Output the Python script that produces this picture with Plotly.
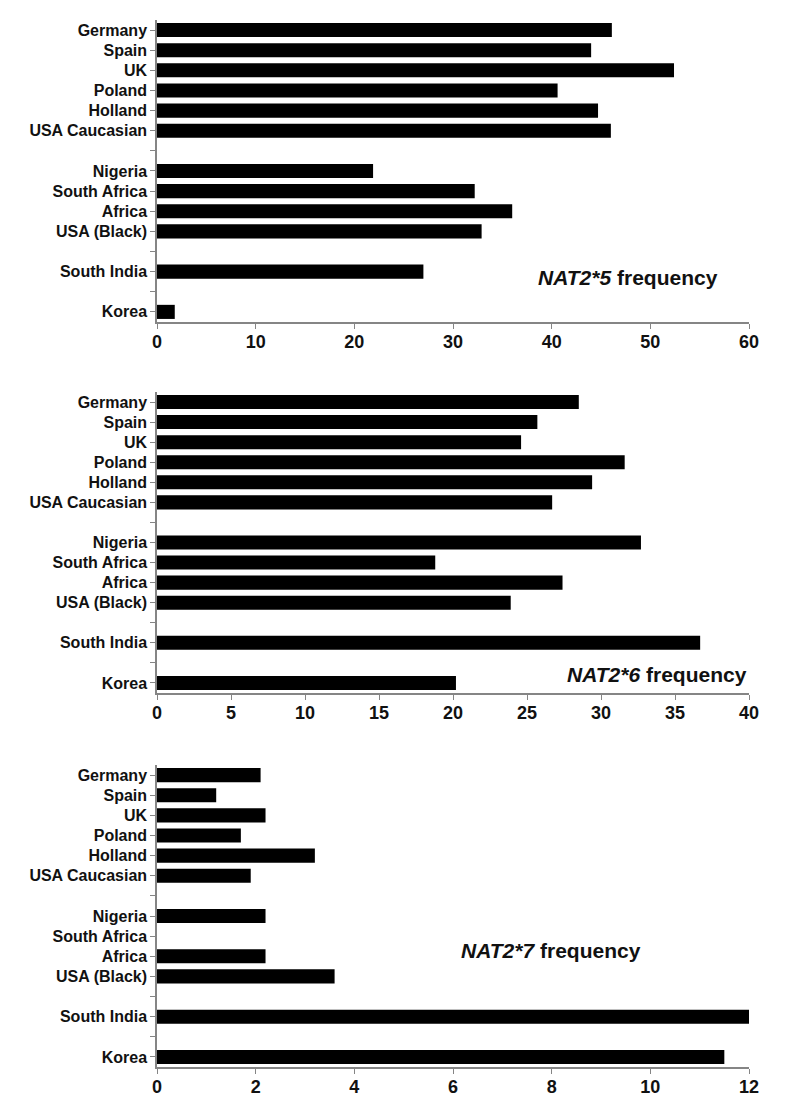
import plotly.graph_objects as go
from plotly.subplots import make_subplots

# rows top -> bottom; "gap_*" rows are empty spacer rows (tick mark, no label)
rows = ["Germany", "Spain", "UK", "Poland", "Holland", "USA Caucasian", "gap_a",
        "Nigeria", "South Africa", "Africa", "USA (Black)", "gap_b",
        "South India", "gap_c", "Korea"]
row_labels = ["" if r.startswith("gap_") else r for r in rows]

nat2_5 = [46.1, 44.0, 52.4, 40.6, 44.7, 46.0, None,
          21.9, 32.2, 36.0, 32.9, None, 27.0, None, 1.8]
nat2_6 = [28.5, 25.7, 24.6, 31.6, 29.4, 26.7, None,
          32.7, 18.8, 27.4, 23.9, None, 36.7, None, 20.2]
nat2_7 = [2.1, 1.2, 2.2, 1.7, 3.2, 1.9, None,
          2.2, 0.0, 2.2, 3.6, None, 12.0, None, 11.5]

panels = [
    dict(values=nat2_5, xmax=60, dtick=10, label="<b><i>NAT2*5</i> frequency</b>",
         ax=0.641, ay=0.146, xanchor="left"),
    dict(values=nat2_6, xmax=40, dtick=5, label="<b><i>NAT2*6</i> frequency</b>",
         ax=1.0, ay=0.062, xanchor="right"),
    dict(values=nat2_7, xmax=12, dtick=2, label="<b><i>NAT2*7</i> frequency</b>",
         ax=0.510, ay=0.387, xanchor="left"),
]
domains = [[0.7116, 1.0], [0.3572, 0.6447], [0.0, 0.2884]]

FONT = "Arial, 'Liberation Sans', sans-serif"
AXIS_GREY = "#858585"

fig = make_subplots(rows=3, cols=1)

for i, p in enumerate(panels, start=1):
    fig.add_trace(go.Bar(
        x=p["values"], y=rows, orientation="h",
        marker=dict(color="black", line=dict(width=0)),
        width=0.7, showlegend=False,
    ), row=i, col=1)
    fig.update_xaxes(
        range=[0, p["xmax"]], dtick=p["dtick"], tick0=0,
        showgrid=False, zeroline=False,
        showline=True, linecolor=AXIS_GREY, linewidth=1.5,
        ticks="outside", ticklen=5, tickcolor=AXIS_GREY, tickwidth=1,
        tickfont=dict(family=FONT, size=18, color="#111111"),
        tickprefix="<b>", ticksuffix="</b>",
        ticklabelstandoff=-2,
        row=i, col=1,
    )
    fig.update_yaxes(
        type="category", categoryorder="array", categoryarray=rows,
        autorange="reversed",
        tickvals=rows, ticktext=[f"<b>{t}</b>" if t else "" for t in row_labels],
        showgrid=False, zeroline=False,
        showline=True, linecolor=AXIS_GREY, linewidth=1.5,
        ticks="outside", ticklen=5, tickcolor=AXIS_GREY, tickwidth=1,
        tickfont=dict(family=FONT, size=16, color="#111111"),
        domain=domains[i - 1],
        row=i, col=1,
    )
    xref = "x domain" if i == 1 else f"x{i} domain"
    yref = "y domain" if i == 1 else f"y{i} domain"
    fig.add_annotation(
        text=p["label"], xref=xref, yref=yref, x=p["ax"], y=p["ay"],
        xanchor=p["xanchor"], yanchor="middle", showarrow=False,
        font=dict(family=FONT, size=21, color="#111111"),
    )

fig.update_layout(
    width=800, height=1110,
    margin=dict(l=149, r=59, t=12, b=51),
    paper_bgcolor="white", plot_bgcolor="white",
    bargap=0.3,
    font=dict(family=FONT, color="#111111"),
)

fig.write_html("out.html")
